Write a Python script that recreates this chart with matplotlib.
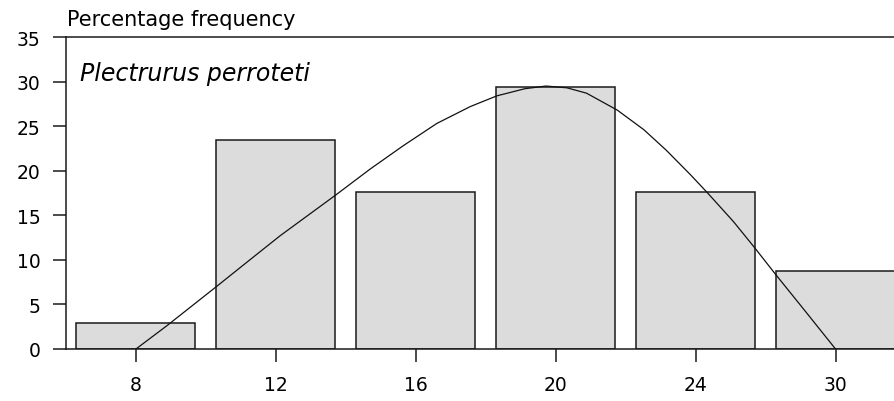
"""
Percentage frequency histogram with fitted curve for Plectrurus perroteti.
"""

import matplotlib.pyplot as plt
import numpy as np

# Size classes and percentage frequency of each
size_classes = ["8", "12", "16", "20", "24", "30"]
pct_freq = [2.9, 23.5, 17.6, 29.4, 17.6, 8.8]

# Fitted curve (x in class-position units)
curve_x = [0.0, 0.22, 0.575, 0.79, 1.03, 1.43, 1.675, 1.91, 2.15, 2.39,
           2.58, 2.78, 2.93, 3.08, 3.22, 3.44, 3.63, 3.79, 3.96, 4.08,
           4.27, 4.42, 4.57, 4.75, 5.0]
curve_y = [0.0, 2.6, 7.0, 9.7, 12.7, 17.3, 20.2, 22.8, 25.3, 27.2,
           28.4, 29.2, 29.5, 29.3, 28.7, 26.8, 24.6, 22.3, 19.6, 17.6,
           14.3, 11.4, 8.4, 4.9, 0.0]

plt.rcParams["font.family"] = ["DejaVu Sans"]

W, H = 894, 402
fig = plt.figure(figsize=(W / 100, H / 100), dpi=100)
ax = fig.add_axes([66 / W, 1 - 350 / H, 1 - 66 / W, (350 - 38) / H])

pos = np.arange(len(size_classes))
ax.bar(pos, pct_freq, width=0.85, color="#dcdcdc", edgecolor="#1a1a1a",
       linewidth=1.1, zorder=2)
ax.plot(curve_x, curve_y, color="#111111", linewidth=0.9, zorder=3)

ax.set_xlim(-0.5, (W - 135.5) / 140)
ax.set_ylim(0, 35)
ax.set_xticks(pos)
ax.set_xticklabels(size_classes)
ax.set_yticks(np.arange(0, 36, 5))

for side in ("left", "top", "bottom"):
    ax.spines[side].set_color("#1a1a1a")
    ax.spines[side].set_linewidth(1.1)
ax.spines["right"].set_visible(False)
ax.spines["top"].set_zorder(4)

ax.tick_params(axis="y", direction="out", length=9.4, width=1.1,
               pad=9, labelsize=13.5, color="#1a1a1a")
ax.tick_params(axis="x", direction="out", length=9.4, width=1.1,
               pad=9, labelsize=13.5, color="#1a1a1a")

ax.text(14 / 828, 0.885, "Plectrurus perroteti", transform=ax.transAxes,
        fontsize=17, fontstyle="italic", ha="left", va="center")
fig.text(67 / W, 1 - 20 / H, "Percentage frequency", fontsize=15,
         ha="left", va="center")

fig.savefig("out.png", dpi=100)
